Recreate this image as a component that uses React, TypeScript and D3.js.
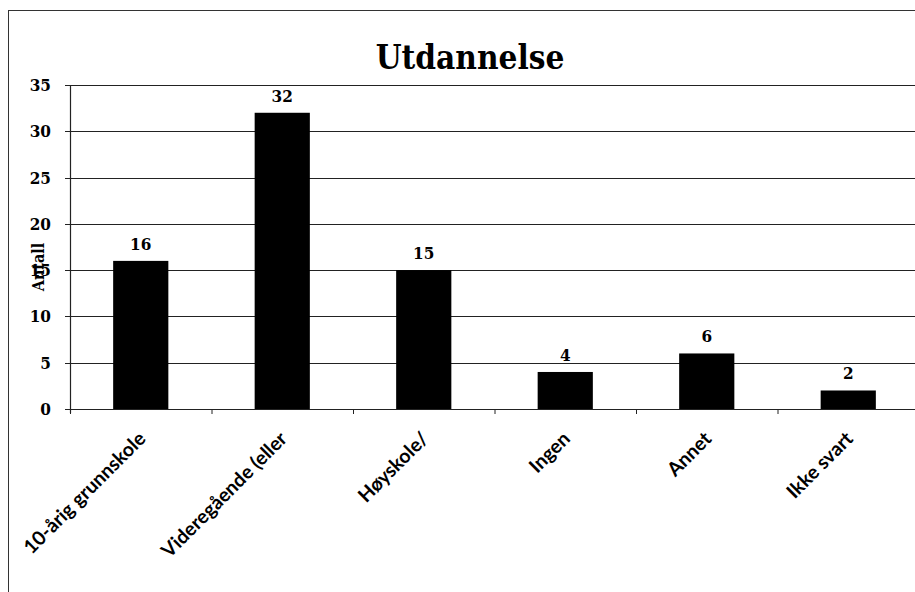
import React, { useEffect, useRef } from 'react';
import * as d3 from 'd3';

const CATEGORIES = ["10-årig grunnskole", "Videregående (eller", "Høyskole/", "Ingen", "Annet", "Ikke svart"];
const VALUES = [16, 32, 15, 4, 6, 2];
const Y_TICKS = [0, 5, 10, 15, 20, 25, 30, 35];
const TITLE = "Utdannelse";
const Y_LABEL = "Antall";

const SERIF = "'DejaVu Serif Condensed', 'DejaVu Serif', serif";
const LABEL_FONT = "Lato, 'Open Sans', sans-serif";

const App = () => {
    const svgRef = useRef<SVGSVGElement>(null);

    // set dimensions of the graph
    const width = 915;
    const height = 592;
    const margin = { top: 85, right: -4, bottom: 183, left: 70 };

    useEffect(() => {
        const svg = d3.select(svgRef.current);
        svg.selectAll("*").remove();

        // x axis
        const x_scale = d3.scaleBand()
            .domain(CATEGORIES)
            .range([margin.left, width - margin.right])
            .paddingInner(0.61)
            .paddingOuter(0.305);

        // y axis
        const y_scale = d3.scaleLinear()
            .domain([0, 35])
            .range([height - margin.bottom, margin.top]);

        // outer frame
        svg.append("line")
            .attr("x1", 8).attr("x2", width).attr("y1", 10.5).attr("y2", 10.5)
            .style("stroke", "#333").style("stroke-width", 1);
        svg.append("line")
            .attr("x1", 8.5).attr("x2", 8.5).attr("y1", 10).attr("y2", height)
            .style("stroke", "#333").style("stroke-width", 1);

        // gridlines
        svg.append("g")
            .selectAll("line")
            .data(Y_TICKS)
            .enter().append("line")
            .attr("x1", margin.left - 5)
            .attr("x2", width)
            .attr("y1", d => Math.round(y_scale(d)) + 0.5)
            .attr("y2", d => Math.round(y_scale(d)) + 0.5)
            .style("stroke", "#222")
            .style("stroke-width", 1.2);

        // y axis line
        svg.append("line")
            .attr("x1", margin.left + 0.5).attr("x2", margin.left + 0.5)
            .attr("y1", y_scale(35)).attr("y2", y_scale(0) + 4)
            .style("stroke", "#222").style("stroke-width", 1.2);

        // x tick marks at band boundaries
        const step = x_scale.step();
        const boundaries = CATEGORIES.map((c, i) => margin.left + i * step);
        svg.append("g")
            .selectAll("line")
            .data(boundaries)
            .enter().append("line")
            .attr("x1", d => d + 0.5).attr("x2", d => d + 0.5)
            .attr("y1", y_scale(0)).attr("y2", y_scale(0) + 5)
            .style("stroke", "#222").style("stroke-width", 1);

        // y tick labels
        svg.append("g")
            .selectAll("text")
            .data(Y_TICKS)
            .enter().append("text")
            .attr("x", 51)
            .attr("y", d => y_scale(d) + 6)
            .attr("text-anchor", "end")
            .attr("font-family", SERIF)
            .attr("font-weight", "bold")
            .attr("font-size", 17)
            .text(d => d);

        // bars
        svg.append("g")
            .selectAll("rect")
            .data(VALUES)
            .enter().append("rect")
            .attr("x", (d, i) => x_scale(CATEGORIES[i]) as number)
            .attr("y", d => y_scale(d))
            .attr("width", x_scale.bandwidth())
            .attr("height", d => y_scale(0) - y_scale(d))
            .style("fill", "#000");

        // value labels
        svg.append("g")
            .selectAll("text")
            .data(VALUES)
            .enter().append("text")
            .attr("x", (d, i) => (x_scale(CATEGORIES[i]) as number) + x_scale.bandwidth() / 2)
            .attr("y", d => y_scale(d) - 11)
            .attr("text-anchor", "middle")
            .attr("font-family", SERIF)
            .attr("font-weight", "bold")
            .attr("font-size", 17)
            .text(d => d);

        // category labels
        svg.append("g")
            .selectAll("text")
            .data(CATEGORIES)
            .enter().append("text")
            .attr("transform", d => {
                const cx = (x_scale(d) as number) + x_scale.bandwidth() / 2 + 6;
                return "translate(" + cx + " " + (y_scale(0) + 31) + ") rotate(-45)";
            })
            .attr("text-anchor", "end")
            .attr("font-family", LABEL_FONT)
            .attr("font-weight", "bold")
            .attr("font-size", 19.5)
            .text(d => d);

        // title
        svg.append("text")
            .attr("x", 470)
            .attr("y", 69)
            .attr("text-anchor", "middle")
            .attr("font-family", SERIF)
            .attr("font-weight", "bold")
            .attr("font-size", 33)
            .text(TITLE);

        // y axis label
        svg.append("text")
            .attr("transform", "translate(44 " + 267 + ") rotate(-90)")
            .attr("text-anchor", "middle")
            .attr("font-family", SERIF)
            .attr("font-weight", "bold")
            .attr("font-size", 16)
            .text(Y_LABEL);
    }, []);

    return <svg ref={svgRef} width={width} height={height}
        style={{ position: "absolute", left: 0, top: 0, background: "#fff" }} />;
};

export default App;
